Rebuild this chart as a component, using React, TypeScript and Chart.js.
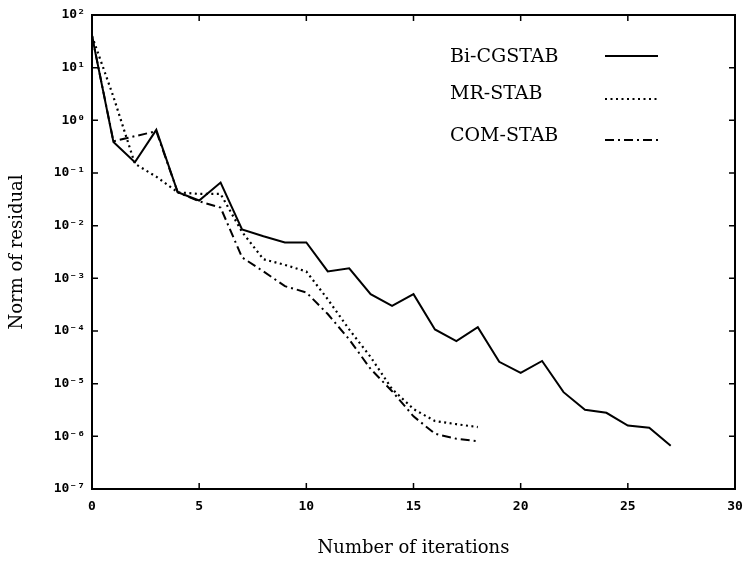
import React, { useEffect, useRef } from "react";
import { Chart, registerables } from "chart.js";

Chart.register(...registerables);

// ---- data ----
const iterationsBicg = [0, 1, 2, 3, 4, 5, 6, 7, 8, 9, 10, 11, 12, 13, 14, 15, 16, 17, 18, 19, 20, 21, 22, 23, 24, 25, 26, 27];
const iterationsShort = [0, 1, 2, 3, 4, 5, 6, 7, 8, 9, 10, 11, 12, 13, 14, 15, 16, 17, 18];

const bicgstab = [40, 0.39, 0.16, 0.66, 0.043, 0.030, 0.066, 8.5e-3, 6.3e-3, 4.8e-3, 4.8e-3, 1.35e-3, 1.55e-3, 5.0e-4, 3.0e-4, 5.0e-4, 1.07e-4, 6.4e-5, 1.18e-4, 2.6e-5, 1.6e-5, 2.7e-5, 6.9e-6, 3.2e-6, 2.8e-6, 1.6e-6, 1.45e-6, 6.6e-7];
const mrstab = [40, 2.8, 0.15, 0.085, 0.043, 0.04, 0.04, 7.6e-3, 2.3e-3, 1.8e-3, 1.35e-3, 4.0e-4, 1.07e-4, 3.2e-5, 7.9e-6, 3.3e-6, 1.95e-6, 1.7e-6, 1.5e-6];
const comstab = [40, 0.4, 0.5, 0.62, 0.043, 0.029, 0.022, 2.5e-3, 1.35e-3, 7.1e-4, 5.4e-4, 2.1e-4, 6.9e-5, 1.9e-5, 7.2e-6, 2.4e-6, 1.12e-6, 9e-7, 8.1e-7];

const seriesLabels = ["Bi-CGSTAB", "MR-STAB", "COM-STAB"];
const yExponents = [-7, -6, -5, -4, -3, -2, -1, 0, 1, 2];
const xTickValues = [0, 5, 10, 15, 20, 25, 30];
const xTitle = "Number of iterations";
const yTitle = "Norm of residual";

const SUP: Record<string, string> = {
  "0": "\u2070", "1": "\u00b9", "2": "\u00b2", "3": "\u00b3", "4": "\u2074",
  "5": "\u2075", "6": "\u2076", "7": "\u2077", "8": "\u2078", "9": "\u2079", "-": "\u207b",
};
const supText = (n: number) => String(n).split("").map((c) => SUP[c] || c).join("");

const toPoints = (xs: number[], ys: number[]) => xs.map((x, i) => ({ x, y: ys[i] }));

const frameLegendPlugin = {
  id: "frameLegend",
  afterDraw(chart: any) {
    const { ctx, chartArea, scales } = chart;
    const { left, right, top, bottom } = chartArea;
    const xs = scales.x;
    const ys = scales.y;
    ctx.save();
    ctx.strokeStyle = "#000";
    ctx.lineWidth = 2;
    ctx.strokeRect(left, top, right - left, bottom - top);
    ctx.lineWidth = 1.5;
    const tl = 6;
    ctx.beginPath();
    xs.ticks.forEach((t: any) => {
      const px = xs.getPixelForValue(t.value);
      ctx.moveTo(px, bottom);
      ctx.lineTo(px, bottom - tl);
      ctx.moveTo(px, top);
      ctx.lineTo(px, top + tl);
    });
    ys.ticks.forEach((t: any) => {
      const py = ys.getPixelForValue(t.value);
      ctx.moveTo(left, py);
      ctx.lineTo(left + tl, py);
      ctx.moveTo(right, py);
      ctx.lineTo(right - tl, py);
    });
    ctx.stroke();

    // legend
    const textX = 450;
    const lineX0 = 605;
    const lineX1 = 658;
    const textYs = [57, 94, 136];
    const lineYs = [56, 99, 140];
    ctx.font = "19px 'DejaVu Serif'";
    ctx.fillStyle = "#000";
    ctx.textBaseline = "middle";
    ctx.textAlign = "left";
    chart.data.datasets.forEach((ds: any, i: number) => {
      ctx.fillText(ds.label, textX, textYs[i]);
      ctx.save();
      ctx.lineWidth = ds.borderWidth;
      ctx.setLineDash(ds.borderDash || []);
      ctx.lineCap = ds.borderCapStyle || "butt";
      ctx.beginPath();
      ctx.moveTo(lineX0, lineYs[i]);
      ctx.lineTo(lineX1, lineYs[i]);
      ctx.stroke();
      ctx.restore();
    });
    ctx.restore();
  },
};

export default function App() {
  const ref = useRef<HTMLCanvasElement | null>(null);
  useEffect(() => {
    if (!ref.current) return;
    const tickFont = { family: "'DejaVu Sans Mono'", size: 13, weight: "bold" as const };
    const titleFont = { family: "'DejaVu Serif'", size: 18 };
    const chart = new Chart(ref.current, {
      type: "line",
      data: {
        datasets: [
          {
            label: seriesLabels[0],
            data: toPoints(iterationsBicg, bicgstab),
            borderColor: "#000",
            borderWidth: 2,
            pointRadius: 0,
            tension: 0,
          },
          {
            label: seriesLabels[1],
            data: toPoints(iterationsShort, mrstab),
            borderColor: "#000",
            borderWidth: 2.2,
            borderDash: [2, 3.5],
            pointRadius: 0,
            tension: 0,
          },
          {
            label: seriesLabels[2],
            data: toPoints(iterationsShort, comstab),
            borderColor: "#000",
            borderWidth: 2,
            borderDash: [9, 4, 2, 4],
            pointRadius: 0,
            tension: 0,
          },
        ],
      },
      options: {
        animation: false,
        responsive: false,
        maintainAspectRatio: false,
        layout: { padding: { left: 0, top: 15, right: 14, bottom: 0 } },
        plugins: { legend: { display: false }, tooltip: { enabled: false } },
        scales: {
          x: {
            type: "linear",
            min: 0,
            max: 30,
            grid: { display: false, drawTicks: false },
            border: { display: false },
            afterBuildTicks: (scale: any) => {
              scale.ticks = xTickValues.map((v) => ({ value: v }));
            },
            afterFit: (scale: any) => {
              scale.height = 73;
              scale.paddingLeft = 0;
              scale.paddingRight = 0;
            },
            ticks: { font: tickFont, color: "#000", padding: 10, maxRotation: 0 },
            title: { display: true, text: xTitle, font: titleFont, color: "#000", padding: { top: 0, bottom: 3 } },
          },
          y: {
            type: "logarithmic",
            min: 1e-7,
            max: 1e2,
            grid: { display: false, drawTicks: false },
            border: { display: false },
            afterBuildTicks: (scale: any) => {
              scale.ticks = yExponents.map((e) => ({ value: Math.pow(10, e) }));
            },
            afterFit: (scale: any) => {
              scale.width = 92;
              scale.paddingTop = 0;
              scale.paddingBottom = 0;
            },
            ticks: {
              font: tickFont,
              color: "#000",
              padding: 7,
              callback: (v: any) => "10" + supText(Math.round(Math.log10(Number(v)))),
            },
            title: { display: true, text: yTitle, font: titleFont, color: "#000", padding: { top: 7, bottom: 0 } },
          },
        },
      },
      plugins: [frameLegendPlugin],
    });
    return () => chart.destroy();
  }, []);
  return (
    <div style={{ position: "absolute", left: 0, top: 0, width: 749, height: 562, background: "#fff" }}>
      <canvas ref={ref} width={749} height={562} style={{ width: 749, height: 562 }} />
    </div>
  );
}
